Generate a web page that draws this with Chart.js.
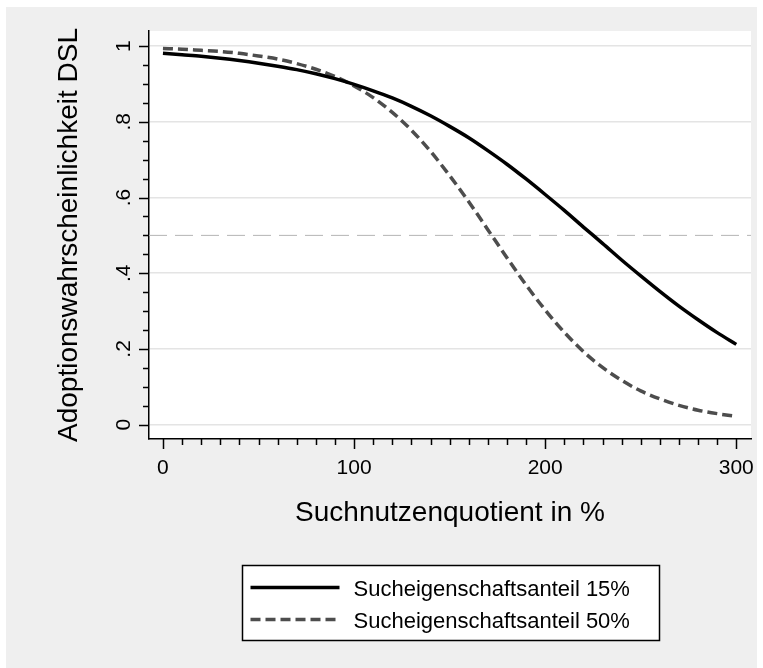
<!DOCTYPE html>
<html>
<head>
<meta charset="utf-8">
<script src="https://cdn.jsdelivr.net/npm/chart.js@4.4.0/dist/chart.umd.min.js"></script>
<style>
  html, body { margin: 0; padding: 0; background: #fff; }
  #wrap { position: absolute; left: 6px; top: 7px; width: 751px; height: 661px; background: #efefef; }
</style>
</head>
<body>
<div id="wrap"><canvas id="chart"></canvas></div>
<script>
  // Daten
  var suchnutzen = [0, 10, 20, 30, 40, 50, 60, 70, 80, 90, 100, 110, 120, 130, 140, 150,
                    160, 170, 180, 190, 200, 210, 220, 230, 240, 250, 260, 270, 280, 290, 300];
  var anteil15 = [0.981, 0.977, 0.973, 0.968, 0.962, 0.955, 0.947, 0.938, 0.927, 0.914, 0.899,
                  0.882, 0.863, 0.841, 0.816, 0.788, 0.758, 0.724, 0.688, 0.649, 0.608,
                  0.566, 0.522, 0.479, 0.435, 0.393, 0.352, 0.313, 0.277, 0.243, 0.212];
  var anteil50 = [0.994, 0.992, 0.989, 0.986, 0.981, 0.974, 0.966, 0.954, 0.939, 0.920, 0.895,
                  0.864, 0.825, 0.778, 0.722, 0.658, 0.589, 0.515, 0.441, 0.369, 0.303,
                  0.244, 0.193, 0.151, 0.117, 0.089, 0.068, 0.051, 0.038, 0.029, 0.022];
  var seriesLabels = ["Sucheigenschaftsanteil 15%", "Sucheigenschaftsanteil 50%"];
  var xTicks = [0, 100, 200, 300];
  var yTicks = [0, 0.2, 0.4, 0.6, 0.8, 1];
  var yTickLabels = ["0", ".2", ".4", ".6", ".8", "1"];
  var refLine = 0.5;

  var FONT = "'Liberation Sans', Arial, sans-serif";
  Chart.defaults.font.family = FONT;
  Chart.defaults.color = "#000";

  function toPoints(ys) {
    return suchnutzen.map(function (x, i) { return { x: x, y: ys[i] }; });
  }

  // Stata-artige Extras: Plotfläche, Referenzlinie, kleine Ticks, y-Beschriftung, Legende
  var stataLook = {
    id: "stataLook",
    beforeDraw: function (chart) {
      var a = chart.chartArea, ctx = chart.ctx;
      ctx.save();
      ctx.fillStyle = "#fff";
      ctx.fillRect(a.left, a.top, a.right - a.left, a.bottom - a.top);
      ctx.restore();
    },
    beforeDatasetsDraw: function (chart) {
      var a = chart.chartArea, ctx = chart.ctx;
      var y = chart.scales.y.getPixelForValue(refLine);
      ctx.save();
      ctx.strokeStyle = "#b4b4b4";
      ctx.lineWidth = 1;
      ctx.setLineDash([18, 8]);
      ctx.beginPath();
      ctx.moveTo(a.left, y);
      ctx.lineTo(a.right, y);
      ctx.stroke();
      ctx.restore();
    },
    afterDraw: function (chart) {
      var a = chart.chartArea, ctx = chart.ctx;
      var xs = chart.scales.x, ys = chart.scales.y;
      ctx.save();
      ctx.strokeStyle = "#000";
      ctx.lineWidth = 1.5;
      ctx.beginPath();
      // y ticks every .05
      for (var i = 0; i <= 20; i++) {
        var v = i * 0.05;
        var py = Math.round(ys.getPixelForValue(v)) + 0.5;
        var len = (i % 4 === 0) ? 10 : 6;
        ctx.moveTo(a.left, py);
        ctx.lineTo(a.left - len, py);
      }
      // x ticks every 10
      for (var j = 0; j <= 30; j++) {
        var px = Math.round(xs.getPixelForValue(j * 10)) + 0.5;
        var l2 = (j % 10 === 0) ? 10 : 6;
        ctx.moveTo(px, a.bottom);
        ctx.lineTo(px, a.bottom + l2);
      }
      ctx.stroke();

      // y tick labels, rotated
      ctx.fillStyle = "#000";
      ctx.font = "21px " + FONT;
      ctx.textAlign = "center";
      ctx.textBaseline = "alphabetic";
      yTicks.forEach(function (v, k) {
        ctx.save();
        ctx.translate(a.left - 19, ys.getPixelForValue(v));
        ctx.rotate(-Math.PI / 2);
        ctx.fillText(yTickLabels[k], 0, 0);
        ctx.restore();
      });

      // legend box
      var w = 417, h = 75;
      var bx = Math.round((a.left + a.right) / 2 - w / 2) + 0.5;
      var by = Math.round(a.bottom + 126) + 0.5;
      ctx.fillStyle = "#fff";
      ctx.fillRect(bx, by, w, h);
      ctx.lineWidth = 1.5;
      ctx.strokeStyle = "#000";
      ctx.strokeRect(bx, by, w, h);
      chart.data.datasets.forEach(function (ds, k) {
        var ry = by + 22 + k * 32;
        ctx.save();
        ctx.strokeStyle = ds.borderColor;
        ctx.lineWidth = ds.borderWidth;
        ctx.setLineDash(ds.borderDash || []);
        ctx.beginPath();
        ctx.moveTo(bx + 8, ry);
        ctx.lineTo(bx + 97, ry);
        ctx.stroke();
        ctx.restore();
        ctx.fillStyle = "#000";
        ctx.font = "22px " + FONT;
        ctx.textAlign = "left";
        ctx.textBaseline = "alphabetic";
        ctx.fillText(ds.label, bx + 111, ry + 8);
      });
      ctx.restore();
    }
  };

  new Chart(document.getElementById("chart").getContext("2d"), {
    type: "line",
    data: {
      datasets: [
        {
          label: seriesLabels[0],
          data: toPoints(anteil15),
          borderColor: "#000",
          borderWidth: 3.5,
          pointRadius: 0,
          cubicInterpolationMode: "monotone",
          fill: false
        },
        {
          label: seriesLabels[1],
          data: toPoints(anteil50),
          borderColor: "#4d4d4d",
          borderWidth: 3.5,
          borderDash: [10, 5],
          pointRadius: 0,
          cubicInterpolationMode: "monotone",
          fill: false
        }
      ]
    },
    options: {
      responsive: true,
      maintainAspectRatio: false,
      animation: false,
      layout: { padding: { left: 0, right: 6, top: 24, bottom: 129 } },
      plugins: { legend: { display: false }, tooltip: { enabled: false } },
      scales: {
        x: {
          type: "linear",
          min: -7.3,
          max: 307.7,
          afterBuildTicks: function (s) { s.ticks = xTicks.map(function (v) { return { value: v }; }); },
          afterFit: function (s) { s.height = 100; s.paddingLeft = 0; s.paddingRight = 0; },
          grid: { display: false, drawTicks: false },
          border: { display: true, color: "#000", width: 1.5 },
          ticks: { font: { size: 21 }, padding: 17, maxRotation: 0, autoSkip: false },
          title: { display: true, text: "Suchnutzenquotient in %", font: { size: 28 }, padding: { top: 0, bottom: 9 } }
        },
        y: {
          min: -0.038,
          max: 1.04,
          afterBuildTicks: function (s) { s.ticks = yTicks.map(function (v) { return { value: v }; }); },
          afterFit: function (s) { s.width = 143; s.paddingTop = 0; s.paddingBottom = 0; },
          grid: { color: "#e4e4e4", lineWidth: 1.5, drawTicks: false },
          border: { display: true, color: "#000", width: 1.5 },
          ticks: { display: false },
          title: { display: true, text: "Adoptionswahrscheinlichkeit DSL", font: { size: 28 }, padding: { top: 46, bottom: 0 } }
        }
      }
    },
    plugins: [stataLook]
  });
</script>
</body>
</html>
